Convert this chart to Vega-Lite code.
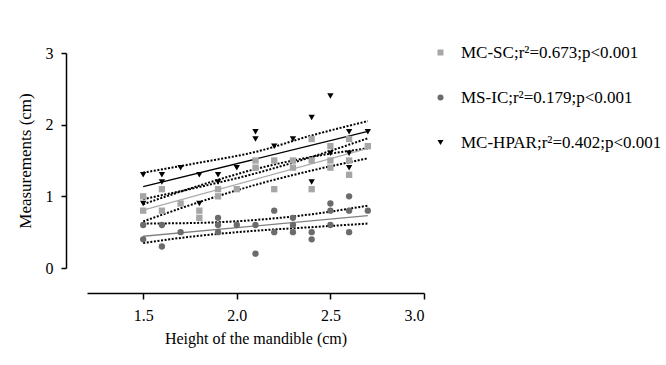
{
  "$schema": "https://vega.github.io/schema/vega-lite/v6.json",
  "width": 337,
  "height": 215,
  "autosize": {"type": "none"},
  "padding": {"left": 87, "top": 53, "right": 242, "bottom": 97},
  "background": "white",
  "config": {
    "view": {"stroke": null},
    "font": "Liberation Serif",
    "axis": {
      "labelFont": "Liberation Serif",
      "titleFont": "Liberation Serif",
      "labelFontSize": 16,
      "titleFontSize": 16,
      "titleFontWeight": "normal",
      "labelColor": "#000",
      "titleColor": "#000",
      "domainColor": "#000",
      "tickColor": "#000",
      "domainWidth": 1.5,
      "tickWidth": 1.5,
      "grid": false
    },
    "legend": {
      "labelFont": "Liberation Serif",
      "labelFontSize": 17,
      "labelColor": "#000",
      "labelLimit": 400,
      "orient": "none",
      "legendX": 345,
      "legendY": -9,
      "padding": 0,
      "rowPadding": 27,
      "labelOffset": 12,
      "symbolSize": 36,
      "symbolStrokeWidth": 0
    }
  },
  "datasets": {
    "pts": [
      {"g": "MC-SC", "x": 1.5, "y": 0.8}, {"g": "MC-SC", "x": 1.5, "y": 1.0},
      {"g": "MC-SC", "x": 1.6, "y": 1.1}, {"g": "MC-SC", "x": 1.6, "y": 0.8},
      {"g": "MC-SC", "x": 1.7, "y": 0.9}, {"g": "MC-SC", "x": 1.8, "y": 0.8},
      {"g": "MC-SC", "x": 1.8, "y": 0.7}, {"g": "MC-SC", "x": 1.9, "y": 1.1},
      {"g": "MC-SC", "x": 1.9, "y": 1.0}, {"g": "MC-SC", "x": 2.0, "y": 1.1},
      {"g": "MC-SC", "x": 2.1, "y": 1.5}, {"g": "MC-SC", "x": 2.1, "y": 1.4},
      {"g": "MC-SC", "x": 2.2, "y": 1.5}, {"g": "MC-SC", "x": 2.2, "y": 1.1},
      {"g": "MC-SC", "x": 2.3, "y": 1.5}, {"g": "MC-SC", "x": 2.3, "y": 1.4},
      {"g": "MC-SC", "x": 2.4, "y": 1.8}, {"g": "MC-SC", "x": 2.4, "y": 1.5},
      {"g": "MC-SC", "x": 2.4, "y": 1.1}, {"g": "MC-SC", "x": 2.5, "y": 1.7},
      {"g": "MC-SC", "x": 2.5, "y": 1.5}, {"g": "MC-SC", "x": 2.5, "y": 1.4},
      {"g": "MC-SC", "x": 2.6, "y": 1.8}, {"g": "MC-SC", "x": 2.6, "y": 1.5},
      {"g": "MC-SC", "x": 2.6, "y": 1.3}, {"g": "MC-SC", "x": 2.7, "y": 1.7},
      {"g": "MS-IC", "x": 1.5, "y": 0.6}, {"g": "MS-IC", "x": 1.5, "y": 0.4},
      {"g": "MS-IC", "x": 1.6, "y": 0.6}, {"g": "MS-IC", "x": 1.6, "y": 0.3},
      {"g": "MS-IC", "x": 1.7, "y": 0.5}, {"g": "MS-IC", "x": 1.9, "y": 0.7},
      {"g": "MS-IC", "x": 1.9, "y": 0.6}, {"g": "MS-IC", "x": 1.9, "y": 0.5},
      {"g": "MS-IC", "x": 2.0, "y": 0.6}, {"g": "MS-IC", "x": 2.1, "y": 0.6},
      {"g": "MS-IC", "x": 2.1, "y": 0.2}, {"g": "MS-IC", "x": 2.2, "y": 0.8},
      {"g": "MS-IC", "x": 2.2, "y": 0.5}, {"g": "MS-IC", "x": 2.3, "y": 0.7},
      {"g": "MS-IC", "x": 2.3, "y": 0.6}, {"g": "MS-IC", "x": 2.3, "y": 0.5},
      {"g": "MS-IC", "x": 2.4, "y": 0.5}, {"g": "MS-IC", "x": 2.4, "y": 0.4},
      {"g": "MS-IC", "x": 2.5, "y": 0.9}, {"g": "MS-IC", "x": 2.5, "y": 0.8},
      {"g": "MS-IC", "x": 2.5, "y": 0.6}, {"g": "MS-IC", "x": 2.6, "y": 1.0},
      {"g": "MS-IC", "x": 2.6, "y": 0.8}, {"g": "MS-IC", "x": 2.6, "y": 0.5},
      {"g": "MS-IC", "x": 2.7, "y": 0.8},
      {"g": "MC-HPAR", "x": 1.5, "y": 1.3}, {"g": "MC-HPAR", "x": 1.5, "y": 0.9},
      {"g": "MC-HPAR", "x": 1.6, "y": 1.3}, {"g": "MC-HPAR", "x": 1.6, "y": 1.2},
      {"g": "MC-HPAR", "x": 1.7, "y": 1.4}, {"g": "MC-HPAR", "x": 1.8, "y": 1.3},
      {"g": "MC-HPAR", "x": 1.8, "y": 0.9}, {"g": "MC-HPAR", "x": 1.9, "y": 1.3},
      {"g": "MC-HPAR", "x": 1.9, "y": 1.2}, {"g": "MC-HPAR", "x": 2.0, "y": 1.4},
      {"g": "MC-HPAR", "x": 2.1, "y": 1.9}, {"g": "MC-HPAR", "x": 2.1, "y": 1.8},
      {"g": "MC-HPAR", "x": 2.2, "y": 1.7}, {"g": "MC-HPAR", "x": 2.3, "y": 1.8},
      {"g": "MC-HPAR", "x": 2.4, "y": 2.1}, {"g": "MC-HPAR", "x": 2.4, "y": 1.2},
      {"g": "MC-HPAR", "x": 2.5, "y": 2.4}, {"g": "MC-HPAR", "x": 2.5, "y": 1.6},
      {"g": "MC-HPAR", "x": 2.6, "y": 1.9}, {"g": "MC-HPAR", "x": 2.6, "y": 1.6},
      {"g": "MC-HPAR", "x": 2.6, "y": 1.4}, {"g": "MC-HPAR", "x": 2.7, "y": 1.9}
    ],
    "bands": [
      {"g": "MC-SC", "b": "lo", "x": 1.5, "y": 0.65}, {"g": "MC-SC", "b": "lo", "x": 1.8, "y": 0.92},
      {"g": "MC-SC", "b": "lo", "x": 2.1, "y": 1.16}, {"g": "MC-SC", "b": "lo", "x": 2.4, "y": 1.36},
      {"g": "MC-SC", "b": "lo", "x": 2.7, "y": 1.53},
      {"g": "MC-SC", "b": "hi", "x": 1.5, "y": 0.96}, {"g": "MC-SC", "b": "hi", "x": 1.8, "y": 1.13},
      {"g": "MC-SC", "b": "hi", "x": 2.1, "y": 1.32}, {"g": "MC-SC", "b": "hi", "x": 2.4, "y": 1.55},
      {"g": "MC-SC", "b": "hi", "x": 2.7, "y": 1.81},
      {"g": "MS-IC", "b": "lo", "x": 1.5, "y": 0.35}, {"g": "MS-IC", "b": "lo", "x": 1.8, "y": 0.45},
      {"g": "MS-IC", "b": "lo", "x": 2.1, "y": 0.52}, {"g": "MS-IC", "b": "lo", "x": 2.4, "y": 0.57},
      {"g": "MS-IC", "b": "lo", "x": 2.7, "y": 0.62},
      {"g": "MS-IC", "b": "hi", "x": 1.5, "y": 0.62}, {"g": "MS-IC", "b": "hi", "x": 1.8, "y": 0.63},
      {"g": "MS-IC", "b": "hi", "x": 2.1, "y": 0.67}, {"g": "MS-IC", "b": "hi", "x": 2.4, "y": 0.75},
      {"g": "MS-IC", "b": "hi", "x": 2.7, "y": 0.87},
      {"g": "MC-HPAR", "b": "lo", "x": 1.5, "y": 0.89}, {"g": "MC-HPAR", "b": "lo", "x": 1.8, "y": 1.15},
      {"g": "MC-HPAR", "b": "lo", "x": 2.1, "y": 1.38}, {"g": "MC-HPAR", "b": "lo", "x": 2.4, "y": 1.55},
      {"g": "MC-HPAR", "b": "lo", "x": 2.7, "y": 1.67},
      {"g": "MC-HPAR", "b": "hi", "x": 1.5, "y": 1.33}, {"g": "MC-HPAR", "b": "hi", "x": 1.8, "y": 1.47},
      {"g": "MC-HPAR", "b": "hi", "x": 2.1, "y": 1.62}, {"g": "MC-HPAR", "b": "hi", "x": 2.4, "y": 1.85},
      {"g": "MC-HPAR", "b": "hi", "x": 2.7, "y": 2.05}
    ]
  },
  "encoding": {
    "x": {
      "field": "x", "type": "quantitative",
      "scale": {"domain": [1.2, 3.0], "nice": false, "zero": false},
      "axis": {
        "title": "Height of the mandible (cm)",
        "values": [1.5, 2.0, 2.5, 3.0], "format": ".1f",
        "offset": 25, "tickSize": 6, "labelPadding": 8, "titlePadding": 7
      }
    },
    "y": {
      "field": "y", "type": "quantitative",
      "scale": {"domain": [0, 3], "nice": false},
      "axis": {
        "title": "Measurements (cm)", "titleFontSize": 17,
        "values": [0, 1, 2, 3], "format": "d",
        "offset": 21, "tickSize": 5, "labelPadding": 8, "titlePadding": 11
      }
    }
  },
  "layer": [
    {
      "data": {"name": "bands"},
      "mark": {"type": "line", "color": "#000", "strokeWidth": 2, "strokeDash": [2, 1.6], "interpolate": "monotone"},
      "encoding": {"detail": [{"field": "g"}, {"field": "b"}]}
    },
    {
      "data": {"name": "pts"},
      "transform": [{"regression": "y", "on": "x", "groupby": ["g"], "extent": [1.5, 2.7]}],
      "mark": {"type": "line", "strokeWidth": 1.3},
      "encoding": {
        "stroke": {
          "field": "g", "type": "nominal",
          "scale": {"domain": ["MC-HPAR", "MC-SC", "MS-IC"], "range": ["#000000", "#aaaaaa", "#808080"]},
          "legend": null
        }
      }
    },
    {
      "data": {"name": "pts"},
      "mark": {"type": "point", "filled": true, "opacity": 1, "size": 40},
      "encoding": {
        "color": {
          "field": "g", "type": "nominal", "title": null,
          "scale": {"domain": ["MC-SC", "MS-IC", "MC-HPAR"], "range": ["#a6a6a6", "#6b6b6b", "#000000"]},
          "legend": {
            "labelExpr": "datum.label == 'MC-SC' ? 'MC-SC;r²=0.673;p<0.001' : datum.label == 'MS-IC' ? 'MS-IC;r²=0.179;p<0.001' : 'MC-HPAR;r²=0.402;p<0.001'"
          }
        },
        "shape": {
          "field": "g", "type": "nominal", "title": null,
          "scale": {"domain": ["MC-SC", "MS-IC", "MC-HPAR"], "range": ["square", "circle", "triangle-down"]},
          "legend": {
            "labelExpr": "datum.label == 'MC-SC' ? 'MC-SC;r²=0.673;p<0.001' : datum.label == 'MS-IC' ? 'MS-IC;r²=0.179;p<0.001' : 'MC-HPAR;r²=0.402;p<0.001'"
          }
        }
      }
    }
  ]
}
